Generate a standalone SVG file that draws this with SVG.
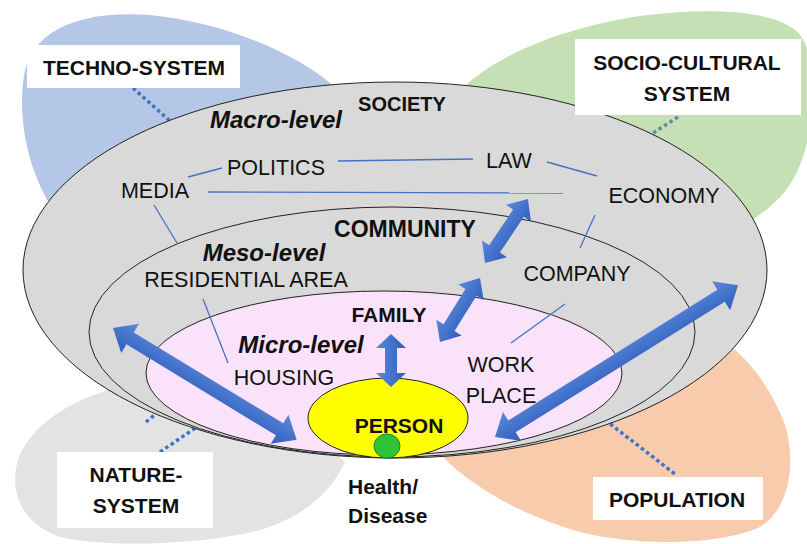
<svg xmlns="http://www.w3.org/2000/svg" width="807" height="544" viewBox="0 0 807 544">
<defs>
<linearGradient id="ag" x1="0" y1="0" x2="0" y2="1">
<stop offset="0" stop-color="#5b88d8"/>
<stop offset="1" stop-color="#2f5fbf"/>
</linearGradient>
<style>
.t{font-family:"Liberation Sans",Arial,sans-serif;font-size:21.5px;fill:#111;text-anchor:middle}
.b{font-family:"Liberation Sans",Arial,sans-serif;font-size:21px;font-weight:bold;fill:#111;text-anchor:middle}
.i{font-family:"Liberation Sans",Arial,sans-serif;font-size:24px;font-weight:bold;font-style:italic;fill:#111;text-anchor:middle}
.ell{stroke:#222;stroke-width:1}
.box{fill:#fff}
.ln{stroke:#4472c4;stroke-width:1.3;fill:none}
.dot{stroke:#4472c4;stroke-width:3.5;stroke-dasharray:3.5 3;fill:none}
.arr{fill:url(#ag)}
</style>
</defs>
<rect width="807" height="544" fill="#fff"/>
<g id="petals">
<path id="techno-petal" fill="#b4c7e7" d="M345,100 L330,83 C290,50 220,22 150,15 C80,10 35,30 25,70 C17,110 25,160 47,200 L120,240 Z"/>
<path id="socio-petal" fill="#c5e0b4" d="M470,100 L467,84 C500,55 560,28 640,16 C710,7 780,10 800,35 C820,60 815,130 800,165 C790,190 775,205 752,220 L600,200 Z"/>
<path id="nature-petal" fill="#e3e3e3" d="M120,380 L103,392 C70,402 30,425 18,460 C8,495 25,525 60,537 C110,548 200,545 260,530 C300,518 330,495 345,462 L300,420 Z"/>
<path id="population-petal" fill="#f8cbad" d="M440,450 L443,457 C470,485 520,515 580,532 C640,547 720,545 760,527 C795,505 795,450 783,420 C773,395 758,370 733,348 L600,380 Z"/>
</g>
<g id="connectors-back">
<line class="dot" x1="133" y1="88" x2="170" y2="121"/>
<line class="dot" x1="678" y1="117" x2="650" y2="135" style="stroke:#5f8e9e"/>
<line class="dot" x1="160" y1="452" x2="210" y2="418"/>
<line class="dot" x1="146" y1="422" x2="158" y2="412"/>
<line class="dot" x1="605" y1="420" x2="675" y2="474"/>
</g>
<g id="society">
<ellipse class="ell" cx="395" cy="270" rx="372" ry="188" fill="#d9d9d9"/>
<text class="b" x="402" y="111" style="font-size:20px">SOCIETY</text>
<text class="i" x="276" y="128">Macro-level</text>
<text class="t" x="276" y="175">POLITICS</text>
<text class="t" x="155" y="198">MEDIA</text>
<text class="t" x="509" y="168">LAW</text>
<text class="t" x="664" y="203">ECONOMY</text>
</g>
<g id="community">
<ellipse class="ell" cx="392" cy="332" rx="303" ry="125" fill="#d9d9d9"/>
<text class="b" x="405" y="237" style="font-size:23px">COMMUNITY</text>
<text class="i" x="264" y="261">Meso-level</text>
<text class="t" x="246" y="287">RESIDENTIAL AREA</text>
<text class="t" x="577" y="281">COMPANY</text>
</g>
<g id="family">
<ellipse class="ell" cx="384" cy="373" rx="238" ry="82" fill="#fae3fa"/>
<text class="b" x="389" y="322">FAMILY</text>
<text class="i" x="301" y="353">Micro-level</text>
<text class="t" x="284" y="385">HOUSING</text>
<text class="t" x="501" y="372">WORK</text>
<text class="t" x="501" y="403">PLACE</text>
</g>
<g id="person">
<ellipse class="ell" cx="388" cy="418" rx="80" ry="40" fill="#ffff00"/>
<text class="b" x="399" y="433">PERSON</text>
</g>
<g id="health">
<ellipse cx="387" cy="446" rx="13" ry="12" fill="#2ec43a" stroke="#1a8a22" stroke-width="1"/>
<text class="b" x="348" y="494" style="text-anchor:start">Health/</text>
<text class="b" x="348" y="523" style="text-anchor:start">Disease</text>
</g>
<g id="connectors">
<line class="ln" x1="188" y1="177" x2="222" y2="168"/>
<line class="ln" x1="338" y1="161" x2="473" y2="159"/>
<line class="ln" x1="208" y1="192" x2="563" y2="193"/>
<line class="ln" x1="547" y1="162" x2="597" y2="176"/>
<line class="ln" x1="154" y1="205" x2="177" y2="243"/>
<line class="ln" x1="595" y1="215" x2="580" y2="248"/>
<line class="ln" x1="203" y1="299" x2="228" y2="363"/>
<line class="ln" x1="565" y1="304" x2="511" y2="343"/>
<polygon class="arr" transform="translate(485,263) rotate(-56.1)" points="0,0 17,-15 17,-6.5 60,-6.5 60,-15 77,0 60,15 60,6.5 17,6.5 17,15"/>
<polygon class="arr" transform="translate(440,342) rotate(-58)" points="0,0 17,-15 17,-6.5 58.5,-6.5 58.5,-15 75.5,0 58.5,15 58.5,6.5 17,6.5 17,15"/>
<polygon class="arr" transform="translate(391,387) rotate(-90)" points="0,0 14,-15 14,-6 39,-6 39,-15 53,0 39,15 39,6 14,6 14,15"/>
<polygon class="arr" transform="translate(113,328) rotate(31.3)" points="0,0 20,-17 20,-7 195,-7 195,-17 215,0 195,17 195,7 20,7 20,17"/>
<polygon class="arr" transform="translate(495,437) rotate(-32)" points="0,0 20,-17 20,-7 266.6,-7 266.6,-17 286.6,0 266.6,17 266.6,7 20,7 20,17"/>
</g>
<g id="techno-system">
<rect class="box" x="27" y="45" width="213" height="43"/>
<text class="b" x="134" y="75">TECHNO-SYSTEM</text>
</g>
<g id="socio-cultural-system">
<rect class="box" x="575" y="39" width="226" height="76"/>
<text class="b" x="687" y="70">SOCIO-CULTURAL</text>
<text class="b" x="687" y="101">SYSTEM</text>
</g>
<g id="nature-system">
<rect class="box" x="57" y="452" width="156" height="76"/>
<text class="b" x="136" y="482">NATURE-</text>
<text class="b" x="136" y="513">SYSTEM</text>
</g>
<g id="population">
<rect class="box" x="593" y="477" width="170" height="43"/>
<text class="b" x="677" y="507">POPULATION</text>
</g>
</svg>
